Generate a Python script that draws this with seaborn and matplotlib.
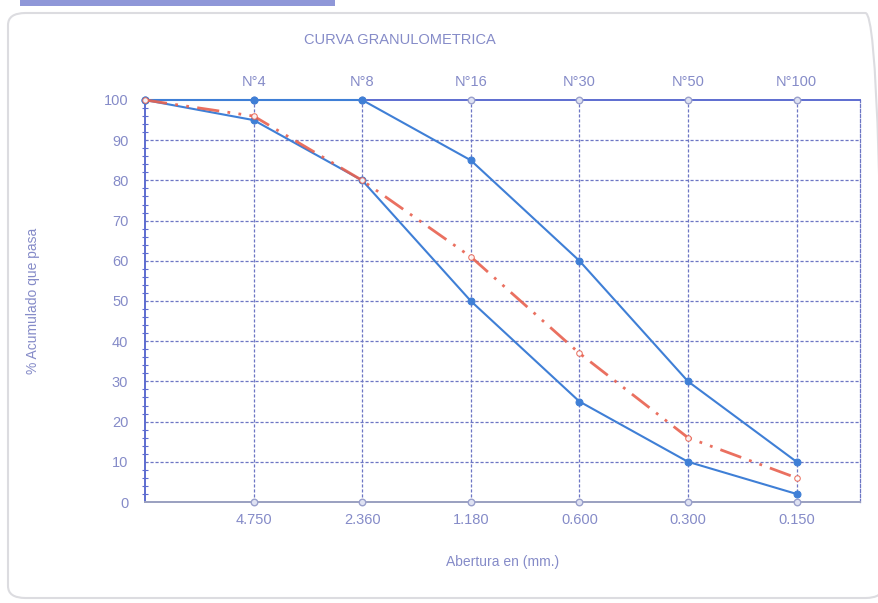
import matplotlib
matplotlib.use("Agg")
import matplotlib.pyplot as plt
import seaborn as sns
import numpy as np
import pandas as pd
from matplotlib.patches import FancyBboxPatch, Rectangle

# ---- data ----
sieve_names = ["3/8\"", "N°4", "N°8", "N°16", "N°30", "N°50", "N°100"]
openings = ["9.500", "4.750", "2.360", "1.180", "0.600", "0.300", "0.150"]
upper_limit = [100, 100, 100, 85, 60, 30, 10]
lower_limit = [100, 95, 80, 50, 25, 10, 2]
gradation = [100, 96, 80, 61, 37, 16, 6]

pos = list(range(len(openings)))
df = pd.DataFrame({
    "pos": pos * 3,
    "pct": upper_limit + lower_limit + gradation,
    "serie": ["sup"] * len(pos) + ["inf"] * len(pos) + ["curva"] * len(pos),
})

sns.set_style("white")
plt.rcParams['font.family'] = ['Liberation Sans', 'DejaVu Sans']

fig = plt.figure(figsize=(8.79, 6.03), dpi=100)
# page decorations
fig.patches.append(FancyBboxPatch((8 / 879, 5 / 603), 875 / 879, 585 / 603,
                                  boxstyle="round,pad=0,rounding_size=0.02",
                                  transform=fig.transFigure, fill=False,
                                  edgecolor="#dcdce0", linewidth=1.5))
fig.patches.append(Rectangle((20 / 879, 597 / 603), 315 / 879, 6 / 603,
                             transform=fig.transFigure, facecolor="#8f97d8",
                             edgecolor="none"))

ax = fig.add_axes([145 / 879, 1 - 502 / 603, (860 - 145) / 879, (502 - 100) / 603])

blue = "#3f7fd6"
red = "#e8614f"
txt = "#858bc8"
grid = "#6d76c4"

sns.lineplot(data=df[df.serie == "sup"], x="pos", y="pct", ax=ax, color=blue,
             linewidth=1.5, marker="o", markersize=5, markeredgecolor=blue,
             clip_on=False, zorder=4)
sns.lineplot(data=df[df.serie == "inf"], x="pos", y="pct", ax=ax, color=blue,
             linewidth=1.5, marker="o", markersize=5, markeredgecolor=blue,
             clip_on=False, zorder=4)
sns.lineplot(data=df[df.serie == "curva"], x="pos", y="pct", ax=ax, color=red,
             linewidth=2.0, alpha=0.9, linestyle=(0, (8, 3, 1, 3, 1, 3)), marker="o",
             markersize=4, markerfacecolor="white", markeredgecolor=red,
             clip_on=False, zorder=5)

ax.set_xlim(0, (860 - 145) / 108.6)
ax.set_ylim(0, 100)
ax.set_yticks(np.arange(0, 101, 10))
ax.set_xticks(pos[1:])
ax.set_xticklabels(openings[1:])
ax.tick_params(axis="both", which="major", colors=txt, labelsize=10.5, length=0, pad=8)
ax.tick_params(axis="y", which="major", pad=12)
ax.set_xlabel("Abertura en (mm.)", color=txt, fontsize=10, labelpad=20)
ax.set_ylabel("% Acumulado que pasa", color=txt, fontsize=10, labelpad=46)

for yv in np.arange(10, 100, 10):
    ax.axhline(yv, color=grid, linestyle=(0, (2.5, 1.5)), linewidth=0.9, zorder=1)
for xv in pos[1:]:
    ax.axvline(xv, color=grid, linestyle=(0, (2.5, 1.5)), linewidth=0.9, zorder=1)

# small markers at axis ends
ax.scatter(pos[1:], [0] * (len(pos) - 1), s=22, facecolor="#dfe2f2",
           edgecolor="#9aa0cc", zorder=3, clip_on=False)
ax.scatter(pos[1:], [100] * (len(pos) - 1), s=22, facecolor="#dfe2f2",
           edgecolor="#9aa0cc", zorder=3, clip_on=False)

for s in ["left", "top"]:
    ax.spines[s].set_color("#5d6cd0")
    ax.spines[s].set_linewidth(1.4)
ax.spines["bottom"].set_color("#9aa0c0")
ax.spines["bottom"].set_linewidth(1.4)
ax.spines["right"].set_color(grid)
ax.spines["right"].set_linestyle((0, (2.5, 1.5)))
ax.spines["right"].set_linewidth(0.9)

# minor ticks on left spine
ax.set_yticks(np.arange(0, 101, 2), minor=True)
ax.tick_params(axis="y", which="minor", left=True, direction="inout", length=5,
               color="#5d6cd0", width=0.8)

top = ax.secondary_xaxis("top")
top.set_xticks(pos[1:])
top.set_xticklabels(sieve_names[1:])
top.tick_params(colors=txt, labelsize=10.5, length=0, pad=8)
top.spines["top"].set_visible(False)

fig.text(400 / 879, 1 - 40 / 603, "CURVA GRANULOMETRICA", color=txt,
         fontsize=10.5, ha="center", va="center")

if ax.get_legend():
    ax.get_legend().remove()

fig.savefig("out.png", dpi=100)
